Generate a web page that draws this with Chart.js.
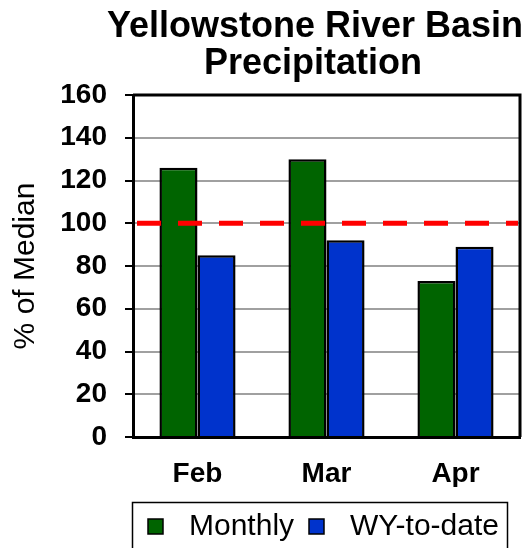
<!DOCTYPE html>
<html>
<head>
<meta charset="utf-8">
<script src="https://cdn.jsdelivr.net/npm/chart.js@4.4.1/dist/chart.umd.min.js"></script>
<style>
  html, body { margin: 0; padding: 0; background: #fff; }
  #wrap { width: 532px; height: 548px; }
</style>
</head>
<body>
<div id="wrap"><canvas id="grafico" width="532" height="548"></canvas></div>
<script>
// dados do grafico
var meses = ['Feb', 'Mar', 'Apr'];
var mensal = [126, 130, 73];
var acumulado = [85, 92, 89];
var linhaMediana = 100;
var titulo = ['Yellowstone River Basin', 'Precipitation'];
var nomesSeries = ['Monthly', 'WY-to-date'];
var tituloEixoY = '% of Median';

var fonte = "'Liberation Sans', Arial, sans-serif";
var corVerde = '#006400';
var corAzul = '#0033cc';

// desenha titulo, moldura, linha tracejada e legenda
var extras = {
    id: 'extras',
    afterDatasetsDraw: function (chart) {
        var ctx = chart.ctx;
        var area = chart.chartArea;
        var y = chart.scales.y.getPixelForValue(linhaMediana);
        ctx.save();
        ctx.strokeStyle = '#ff0000';
        ctx.lineWidth = 5;
        ctx.setLineDash([24, 17]);
        ctx.beginPath();
        ctx.moveTo(area.left + 4, y);
        ctx.lineTo(area.right - 2, y);
        ctx.stroke();
        ctx.restore();
    },
    afterDraw: function (chart) {
        var ctx = chart.ctx;
        var area = chart.chartArea;
        ctx.save();
        // moldura da area do grafico
        ctx.strokeStyle = '#000';
        ctx.lineWidth = 3;
        ctx.beginPath();
        ctx.moveTo(area.left, area.top);
        ctx.lineTo(area.right, area.top);
        ctx.lineTo(area.right, area.bottom);
        ctx.stroke();

        // titulo
        ctx.fillStyle = '#000';
        ctx.font = 'bold 36px ' + fonte;
        ctx.textAlign = 'center';
        ctx.textBaseline = 'alphabetic';
        ctx.fillText(titulo[0], 315, 37);
        ctx.fillText(titulo[1], 313, 74);

        // legenda
        ctx.lineWidth = 1.5;
        ctx.strokeRect(132.5, 502.5, 375, 60);
        var cores = [corVerde, corAzul];
        var xs = [148, 309];
        ctx.font = '30px ' + fonte;
        ctx.textAlign = 'left';
        ctx.textBaseline = 'middle';
        for (var i = 0; i < nomesSeries.length; i++) {
            ctx.fillStyle = cores[i];
            ctx.fillRect(xs[i], 519, 15, 15);
            ctx.strokeRect(xs[i], 519, 15, 15);
            ctx.fillStyle = '#000';
            ctx.fillText(nomesSeries[i], xs[i] + 41, 527);
        }
        ctx.restore();
    }
};

var myChart = new Chart(document.getElementById('grafico'), {
    type: 'bar',
    data: {
        labels: meses,
        datasets: [{
            label: nomesSeries[0],
            data: mensal,
            backgroundColor: corVerde,
            borderColor: '#000',
            borderWidth: 2.5
        }, {
            label: nomesSeries[1],
            data: acumulado,
            backgroundColor: corAzul,
            borderColor: '#000',
            borderWidth: 2.5
        }]
    },
    options: {
        responsive: false,
        animation: false,
        layout: { padding: { left: 0, right: 12, top: 95, bottom: 61 } },
        datasets: { bar: { categoryPercentage: 0.59, barPercentage: 1 } },
        plugins: {
            legend: { display: false },
            tooltip: { enabled: false },
            title: { display: false }
        },
        scales: {
            x: {
                grid: { display: false, drawTicks: false },
                border: { display: true, color: '#000', width: 3 },
                ticks: { color: '#000', font: { family: fonte, size: 28, weight: 'bold' }, padding: 20 },
                afterFit: function (s) { s.height = 50; }
            },
            y: {
                min: 0,
                max: 160,
                ticks: { stepSize: 20, color: '#000', font: { family: fonte, size: 28, weight: 'bold' }, padding: 18 },
                grid: { color: '#a0a0a0', lineWidth: 2, tickColor: '#000', tickLength: 8, tickWidth: 2 },
                border: { display: true, color: '#000', width: 3 },
                title: {
                    display: true,
                    text: tituloEixoY,
                    color: '#000',
                    font: { family: fonte, size: 30, weight: 'normal' },
                    padding: { top: 8, bottom: 0 }
                },
                afterFit: function (s) { s.width = 133; }
            }
        }
    },
    plugins: [extras]
});
</script>
</body>
</html>
